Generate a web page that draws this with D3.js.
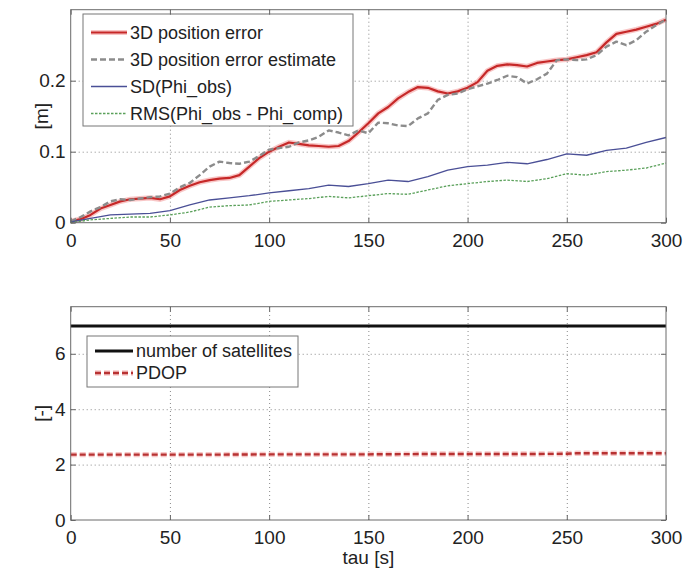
<!DOCTYPE html>
<html>
<head>
<meta charset="utf-8">
<script src="https://cdn.jsdelivr.net/npm/d3@7"></script>
<style>
  body { margin: 0; background: #fff; }
  svg { font-family: "Liberation Sans", Arial, sans-serif; }
  .grid line { stroke: #8a8a8a; stroke-width: 1; stroke-dasharray: 1,3; }
  .grid path { display: none; }
  .ax path { display: none; }
  .ax line { stroke: #666; }
  .ax text { font-size: 19px; fill: #222; }
</style>
</head>
<body>
<svg id="chart" width="684" height="572"></svg>
<script>
// time axes (s)
const tauFine = [0,5,10,15,20,25,30,35,40,45,50,55,60,65,70,75,80,85,90,95,100,
  105,110,115,120,125,130,135,140,145,150,155,160,165,170,175,180,185,190,195,200,
  205,210,215,220,225,230,235,240,245,250,255,260,265,270,275,280,285,290,295,300];
const tauCoarse = [0,10,20,30,40,50,60,70,80,90,100,110,120,130,140,150,
  160,170,180,190,200,210,220,230,240,250,260,270,280,290,300];
const tauSat = [0,25,50,75,100,125,150,175,200,225,250,255,275,300];

// top panel series [m]
const posError = [0.002,0.005,0.011,0.020,0.025,0.030,0.033,0.034,0.035,0.033,0.037,
  0.046,0.052,0.057,0.060,0.062,0.063,0.067,0.079,0.091,0.100,0.107,0.113,0.111,0.109,
  0.108,0.107,0.108,0.115,0.127,0.140,0.154,0.163,0.175,0.184,0.191,0.190,0.185,0.182,
  0.185,0.190,0.198,0.214,0.221,0.223,0.222,0.220,0.225,0.227,0.229,0.230,0.233,0.236,
  0.240,0.254,0.266,0.269,0.272,0.276,0.280,0.286];
const posErrorEst = [0.002,0.008,0.016,0.022,0.030,0.033,0.032,0.034,0.036,0.037,0.041,
  0.050,0.056,0.067,0.079,0.086,0.084,0.083,0.086,0.094,0.103,0.105,0.107,0.113,0.116,
  0.121,0.130,0.127,0.123,0.130,0.126,0.141,0.140,0.137,0.136,0.147,0.154,0.173,0.180,
  0.182,0.188,0.192,0.196,0.201,0.207,0.205,0.196,0.202,0.210,0.229,0.230,0.229,0.230,
  0.236,0.248,0.255,0.250,0.257,0.269,0.278,0.286];
const sdPhiObs = [0.001,0.006,0.011,0.012,0.013,0.017,0.025,0.032,0.035,0.038,0.042,
  0.045,0.048,0.053,0.051,0.055,0.060,0.058,0.065,0.074,0.079,0.081,0.085,0.083,0.089,
  0.097,0.095,0.102,0.105,0.113,0.120];
const rmsPhi = [0.000,0.004,0.006,0.008,0.008,0.011,0.015,0.022,0.024,0.025,0.030,
  0.032,0.034,0.037,0.035,0.038,0.041,0.040,0.046,0.052,0.055,0.058,0.060,0.058,0.062,
  0.069,0.067,0.072,0.074,0.077,0.084];

// bottom panel series [-]
const numSats = [7,7,7,7,7,7,7,7,7,7,7,7,7,7];
const pdop = [2.36,2.36,2.36,2.36,2.37,2.37,2.37,2.38,2.38,2.38,2.39,2.41,2.41,2.41];

// ticks and labels
const xTicks = [0,50,100,150,200,250,300];
const yTicksTop = [0,0.1,0.2];
const yTicksBottom = [0,2,4,6];
const topLegend = ["3D position error","3D position error estimate","SD(Phi_obs)","RMS(Phi_obs - Phi_comp)"];
const bottomLegend = ["number of satellites","PDOP"];

const svg = d3.select("#chart");
const L = 70.7, R = 666;

function panel(p) {
  const g = svg.append("g");
  const x = d3.scaleLinear().domain([0, 300]).range([L, R]);
  const y = d3.scaleLinear().domain(p.yDomain).range([p.bottom, p.top]);
  const h = p.bottom - p.top, w = R - L;

  // dotted grid
  g.append("g").attr("class", "grid").attr("transform", `translate(0,${p.bottom})`)
    .call(d3.axisBottom(x).tickValues(xTicks.slice(1, -1)).tickSize(-h).tickFormat(""));
  g.append("g").attr("class", "grid").attr("transform", `translate(${L},0)`)
    .call(d3.axisLeft(y).tickValues(p.yTicks.slice(1)).tickSize(-w).tickFormat(""));

  // series
  p.series.forEach(s => {
    const line = d3.line().x((d, i) => x(s.t[i])).y(d => y(d));
    if (s.halo) {
      g.append("path").datum(s.v).attr("fill", "none").attr("stroke", s.halo)
        .attr("stroke-width", s.width + 3).attr("stroke-opacity", 0.45)
        .attr("stroke-dasharray", s.dash || null).attr("d", line);
    }
    g.append("path").datum(s.v).attr("fill", "none").attr("stroke", s.color)
      .attr("stroke-width", s.width).attr("stroke-dasharray", s.dash || null)
      .attr("stroke-linejoin", "round").attr("d", line);
  });

  // legend
  const lg = p.legend;
  g.append("rect").attr("x", lg.x).attr("y", lg.y).attr("width", lg.w).attr("height", lg.h)
    .attr("fill", "#fff").attr("stroke", "#777").attr("stroke-width", 1);
  p.series.forEach((s, i) => {
    const yy = lg.y + lg.first + i * lg.step;
    if (s.halo) {
      g.append("line").attr("x1", lg.x + 8).attr("x2", lg.x + 8 + lg.sample).attr("y1", yy).attr("y2", yy)
        .attr("stroke", s.halo).attr("stroke-opacity", 0.45).attr("stroke-width", s.width + 3)
        .attr("stroke-dasharray", s.dash || null);
    }
    g.append("line").attr("x1", lg.x + 8).attr("x2", lg.x + 8 + lg.sample).attr("y1", yy).attr("y2", yy)
      .attr("stroke", s.color).attr("stroke-width", s.width).attr("stroke-dasharray", s.dash || null);
    g.append("text").attr("x", lg.x + 11 + lg.sample).attr("y", yy).attr("dy", "0.35em")
      .attr("font-size", 18).attr("fill", "#222").text(p.labels[i]);
  });

  // box + inward ticks
  g.append("rect").attr("x", L).attr("y", p.top).attr("width", w).attr("height", h)
    .attr("fill", "none").attr("stroke", "#6a6a6a").attr("stroke-width", 1);
  g.append("g").attr("class", "ax").attr("transform", `translate(0,${p.bottom})`)
    .call(d3.axisBottom(x).tickValues(xTicks).tickSize(-5).tickPadding(11));
  g.append("g").attr("class", "ax").attr("transform", `translate(0,${p.top})`)
    .call(d3.axisTop(x).tickValues(xTicks).tickSize(-5).tickFormat(""));
  g.append("g").attr("class", "ax").attr("transform", `translate(${L},0)`)
    .call(d3.axisLeft(y).tickValues(p.yTicks).tickSize(-5).tickPadding(5).tickFormat(p.fmt));
  g.append("g").attr("class", "ax").attr("transform", `translate(${R},0)`)
    .call(d3.axisRight(y).tickValues(p.yTicks).tickSize(-5).tickFormat(""));

  // y label
  g.append("text").attr("transform", `translate(41,${(p.top + p.bottom) / 2}) rotate(-90)`)
    .attr("text-anchor", "middle").attr("dy", "0.35em").attr("font-size", 19).attr("fill", "#222")
    .text(p.ylabel);
}

panel({
  top: 9.7, bottom: 222.7, yDomain: [0, 0.3], yTicks: yTicksTop, ylabel: "[m]",
  fmt: d => d === 0 ? "0" : d3.format(".1f")(d),
  series: [
    { t: tauFine, v: posError, color: "#c62828", halo: "#f08080", width: 2.2 },
    { t: tauFine, v: posErrorEst, color: "#8c8c8c", width: 2.4, dash: "6,3" },
    { t: tauCoarse, v: sdPhiObs, color: "#4a4f96", width: 1.3 },
    { t: tauCoarse, v: rmsPhi, color: "#5aa05a", width: 1.3, dash: "2.5,1.5" }
  ],
  labels: topLegend,
  legend: { x: 83, y: 14, w: 270, h: 112, first: 18.5, step: 27, sample: 36 }
});

panel({
  top: 306.7, bottom: 520, yDomain: [0, 7.7], yTicks: yTicksBottom, ylabel: "[-]",
  fmt: d3.format("d"),
  series: [
    { t: tauSat, v: numSats, color: "#111", width: 3 },
    { t: tauSat, v: pdop, color: "#b83232", halo: "#ee8888", width: 2.4, dash: "6,3" }
  ],
  labels: bottomLegend,
  legend: { x: 87, y: 336, w: 211, h: 51, first: 15, step: 22, sample: 38 }
});

svg.append("text").attr("x", (L + R) / 2).attr("y", 564).attr("text-anchor", "middle")
  .attr("font-size", 19).attr("fill", "#222").text("tau [s]");
</script>
</body>
</html>
